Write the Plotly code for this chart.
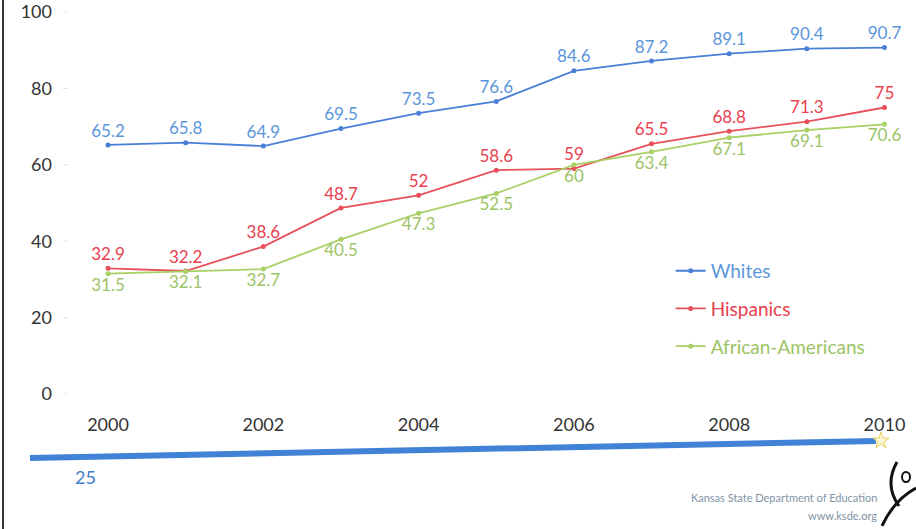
import plotly.graph_objects as go

years = [2000, 2001, 2002, 2003, 2004, 2005, 2006, 2007, 2008, 2009, 2010]
whites = [65.2, 65.8, 64.9, 69.5, 73.5, 76.6, 84.6, 87.2, 89.1, 90.4, 90.7]
hispanics = [32.9, 32.2, 38.6, 48.7, 52, 58.6, 59, 65.5, 68.8, 71.3, 75]
african_americans = [31.5, 32.1, 32.7, 40.5, 47.3, 52.5, 60, 63.4, 67.1, 69.1, 70.6]
x_ticks = [2000, 2002, 2004, 2006, 2008, 2010]
y_ticks = [0, 20, 40, 60, 80, 100]

FONT = "Lato, 'Open Sans', sans-serif"

# plot area in pixels
L, R, T, B = 63, 16, 12, 135
W, H = 916, 529
PW, PH = W - L - R, H - T - B


def px(x):
    return (x - L) / PW


def py(y):
    return (H - B - y) / PH


def pt(x, y):
    return f"{px(x):.4f},{py(y):.4f}"


series = [
    ("Whites", whites, "#4a7fd6", "#5b96dc", "top center"),
    ("Hispanics", hispanics, "#e8505c", "#e8404e", "top center"),
    ("African-Americans", african_americans, "#a9d064", "#9cc466", "bottom center"),
]

fig = go.Figure()
for name, vals, lc, tc, pos in series:
    fig.add_trace(go.Scatter(
        x=years, y=vals, mode="lines+markers+text",
        name=f"<span style='color:{tc}'>{name}</span>",
        line=dict(color=lc, width=1.8),
        marker=dict(color=lc, size=5),
        text=[f"{v:g}" for v in vals], textposition=pos,
        textfont=dict(color=tc, size=17, family=FONT),
        legendgroup=name,
        cliponaxis=False,
    ))

fig.update_layout(
    width=W, height=H,
    margin=dict(l=L, r=R, t=T, b=B, autoexpand=False),
    paper_bgcolor="white", plot_bgcolor="white",
    font=dict(family=FONT, size=18, color="#333"),
    showlegend=True,
    legend=dict(x=0.726, y=0.372, xanchor="left", yanchor="top",
                font=dict(size=19, family=FONT), tracegroupgap=10,
                bgcolor="rgba(0,0,0,0)", itemwidth=30),
    xaxis=dict(range=[1999.42, 2010.2], tickvals=x_ticks, showgrid=False,
               zeroline=False, showline=False, ticks="", ticklabelstandoff=18,
               automargin=False, tickfont=dict(size=18, color="#333")),
    yaxis=dict(range=[0, 100], tickvals=y_ticks, showgrid=False, zeroline=False,
               showline=False, ticks="", automargin=False, ticklabelstandoff=10,
               tickfont=dict(size=18, color="#333")),
)

# faint y tick marks
for v in y_ticks:
    fig.add_shape(type="line", xref="paper", yref="y", x0=0, x1=px(68),
                  y0=v, y1=v, line=dict(color="#dddddd", width=1))

# slide decorations
fig.add_shape(type="line", xref="paper", yref="paper", x0=px(3), x1=px(3),
              y0=py(0), y1=py(529), line=dict(color="#333", width=2))
fig.add_shape(type="line", xref="paper", yref="paper", x0=px(30), x1=px(876),
              y0=py(458), y1=py(441), line=dict(color="#3f82d6", width=6))
# small star at the end of the bar
star = (f"M {pt(881, 432)} L {pt(883, 438)} L {pt(889, 438)} L {pt(884, 442)} "
        f"L {pt(886, 448)} L {pt(881, 444)} L {pt(876, 448)} L {pt(878, 442)} "
        f"L {pt(873, 438)} L {pt(879, 438)} Z")
fig.add_shape(type="path", xref="paper", yref="paper", path=star,
              line=dict(color="#e8d060", width=1), fillcolor="rgba(250,240,180,0.6)")
fig.add_annotation(xref="paper", yref="paper", x=px(85), y=py(477), text="25",
                   showarrow=False, xanchor="center", yanchor="middle",
                   font=dict(size=18, color="#3a7fc8"))
fig.add_annotation(xref="paper", yref="paper", x=px(879), y=py(497),
                   text="Kansas State Department of Education",
                   showarrow=False, xanchor="right", yanchor="middle",
                   font=dict(size=11, color="#7f93a6"))
fig.add_annotation(xref="paper", yref="paper", x=px(879), y=py(515),
                   text="www.ksde.org",
                   showarrow=False, xanchor="right", yanchor="middle",
                   font=dict(size=11, color="#7f93a6"))

# logo (rough figure)
logo = (f"M {pt(897, 462)} Q {pt(884, 485)} {pt(899, 506)} "
        f"M {pt(916, 488)} Q {pt(894, 500)} {pt(882, 526)}")
fig.add_shape(type="path", xref="paper", yref="paper", path=logo,
              line=dict(color="#111", width=3))
fig.add_shape(type="circle", xref="paper", yref="paper",
              x0=px(902), x1=px(910), y0=py(472), y1=py(482),
              line=dict(color="#111", width=2))

fig.write_html("out.html", config={"displayModeBar": False},
               post_script="document.body.style.margin='0px';")
